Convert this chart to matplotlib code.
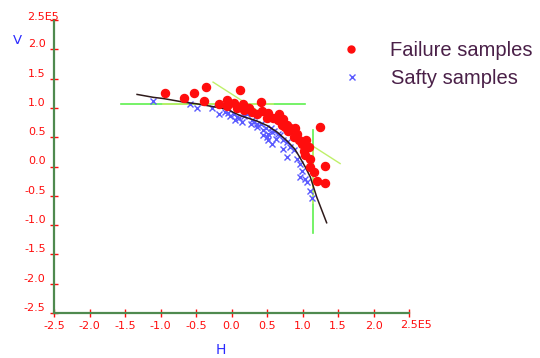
import matplotlib
matplotlib.use("Agg")
import matplotlib.pyplot as plt

# ---- data (units of 1E5) ----
fail_h = [-0.93, -0.67, -0.53, -0.36, -0.39, 0.12, 0.42, -0.17, -0.07, -0.06, 0.03, 0.16,
          0.08, 0.25, 0.17, 0.29, 0.36, 0.52, 0.67, 0.59, 0.50, 0.66, 0.73, 0.73, 0.78, 0.83,
          0.90, 0.80, 0.92, 0.88, 0.95, 1.05, 0.99, 1.09, 1.02, 1.04, 1.10, 1.24, 1.11, 1.32,
          1.16, 1.20, 1.32, 0.71, 0.76, 0.81, 0.43]
fail_v = [1.26, 1.17, 1.26, 1.36, 1.12, 1.30, 1.10, 1.07, 1.14, 1.03, 1.08, 1.06,
          1.00, 1.00, 0.96, 0.93, 0.90, 0.92, 0.90, 0.83, 0.83, 0.80, 0.81, 0.73, 0.71, 0.65,
          0.65, 0.60, 0.56, 0.50, 0.45, 0.46, 0.38, 0.33, 0.27, 0.19, 0.13, 0.68, 0.00, 0.01,
          -0.10, -0.25, -0.29, 0.70, 0.67, 0.62, 0.95]

safe_h = [-1.11, -0.59, -0.48, -0.28, -0.17, -0.05, 0.03, 0.11, 0.17, 0.22, 0.29, 0.32,
          0.36, 0.41, 0.45, 0.50, 0.55, 0.57, 0.62, 0.69, 0.73, 0.78, 0.73, 0.78, 0.88, 0.92,
          0.97, 0.99, 0.96, 1.04, 1.10, 1.14, -0.09, -0.02, 0.08, 0.05, 0.15, 0.27, 0.36,
          0.48, 0.52, 0.45, 0.52, 0.57, 0.83, 0.66, 0.60, 1.06]
safe_v = [1.12, 1.07, 1.00, 1.00, 0.90, 0.92, 0.90, 0.82, 0.87, 0.90, 0.80, 0.76,
          0.73, 0.72, 0.62, 0.51, 0.65, 0.59, 0.47, 0.53, 0.45, 0.42, 0.30, 0.17, 0.29, 0.13,
          0.05, -0.07, -0.18, -0.21, -0.42, -0.53, 0.93, 0.87, 0.84, 0.79, 0.76, 0.73, 0.67,
          0.65, 0.56, 0.53, 0.45, 0.39, 0.33, 0.55, 0.60, -0.27]

curve_h = [-1.33, -1.10, -0.96, -0.68, -0.49, -0.30, -0.07, 0.12, 0.35, 0.50, 0.64, 0.78,
           0.89, 0.96, 1.04, 1.11, 1.20, 1.34]
curve_v = [1.23, 1.18, 1.16, 1.10, 1.07, 1.03, 0.98, 0.87, 0.78, 0.70, 0.59, 0.44,
           0.30, 0.16, -0.01, -0.18, -0.52, -0.96]

hline_h = [-1.56, 1.04]
hline_v = [1.06, 1.06]
hline_mid_h = [-0.96, 0.58]
vline_h = [1.15, 1.15]
vline_v = [0.63, -1.14]
vline_mid_v = [0.30, -0.62]
diag_h = [-0.26, 1.53]
diag_v = [1.44, 0.05]

ticks = [-2.5, -2.0, -1.5, -1.0, -0.5, 0.0, 0.5, 1.0, 1.5, 2.0, 2.5]
tick_labels = ["-2.5", "-2.0", "-1.5", "-1.0", "-0.5", "0.0", "0.5", "1.0", "1.5", "2.0", ""]
legend_labels = ["Failure samples", "Safty samples"]

RED = "#ff0d0d"
BLUE = "#5a5aff"
GREEN = "#5ef04e"
YGREEN = "#bff06a"
AXIS = "#4f8a4f"

fig = plt.figure(figsize=(5.40, 3.58), dpi=100)
ax = fig.add_axes([54 / 540, 1 - 313 / 358, 355 / 540, 293 / 358])

ax.plot(hline_h, hline_v, color=GREEN, lw=1.2, zorder=1)
ax.plot(hline_mid_h, hline_v, color=YGREEN, lw=1.2, zorder=1)
ax.plot(vline_h, vline_v, color=GREEN, lw=1.2, zorder=1)
ax.plot(vline_h, vline_mid_v, color=YGREEN, lw=1.2, zorder=1)
ax.plot(diag_h, diag_v, color=YGREEN, lw=1.0, zorder=1)

ax.plot(safe_h, safe_v, linestyle="none", marker="x", color=BLUE, ms=5, mew=1.0, zorder=2)
ax.plot(curve_h, curve_v, color="#2e1a1a", lw=1.1, zorder=3)
ax.plot(fail_h, fail_v, linestyle="none", marker="o", color=RED, mec=RED, ms=5.8, zorder=4)

ax.set_xlim(-2.5, 2.5)
ax.set_ylim(-2.5, 2.5)
for s in ["top", "right"]:
    ax.spines[s].set_visible(False)
for s in ["left", "bottom"]:
    ax.spines[s].set_color(AXIS)
    ax.spines[s].set_linewidth(1.6)

ax.set_xticks(ticks)
ax.set_yticks(ticks)
ax.set_xticklabels(tick_labels)
ax.set_yticklabels(tick_labels)
ax.tick_params(axis="both", direction="inout", length=6, width=1, color=RED,
               labelcolor=RED, labelsize=8)
ax.tick_params(axis="y", pad=3.0)
ax.tick_params(axis="x", pad=2.5)
for lab in ax.get_yticklabels():
    lab.set_va("bottom")

ax.annotate("2.5E5", xy=(-2.5, 2.5), xycoords="data", xytext=(-19.5, 0),
            textcoords="offset points", ha="left", va="baseline", color=RED, fontsize=8,
            annotation_clip=False)
ax.annotate("2.5E5", xy=(2.5, -2.5), xycoords="data", xytext=(-6.5, -4.9),
            textcoords="offset points", ha="left", va="top", color=RED, fontsize=8,
            annotation_clip=False)

fig.text(17 / 540, 1 - 41 / 358, "V", color="#2a2aff", fontsize=9.5, ha="center", va="center")
fig.text(221 / 540, 1 - 350 / 358, "H", color="#2a2aff", fontsize=10, ha="center", va="center")

# legend
ax.plot([351 / 540], [1 - 49 / 358], transform=fig.transFigure, marker="o", color=RED,
        ms=5, linestyle="none", clip_on=False)
ax.plot([352 / 540], [1 - 77 / 358], transform=fig.transFigure, marker="x", color=BLUE,
        ms=4, mew=1.0, linestyle="none", clip_on=False)
fig.text(390 / 540, 1 - 50 / 358, legend_labels[0], color="#4a2048", fontsize=14.5,
         family="Liberation Sans", ha="left", va="center")
fig.text(391 / 540, 1 - 78 / 358, legend_labels[1], color="#4a2048", fontsize=14.5,
         family="Liberation Sans", ha="left", va="center")

fig.savefig("out.png", dpi=100)
